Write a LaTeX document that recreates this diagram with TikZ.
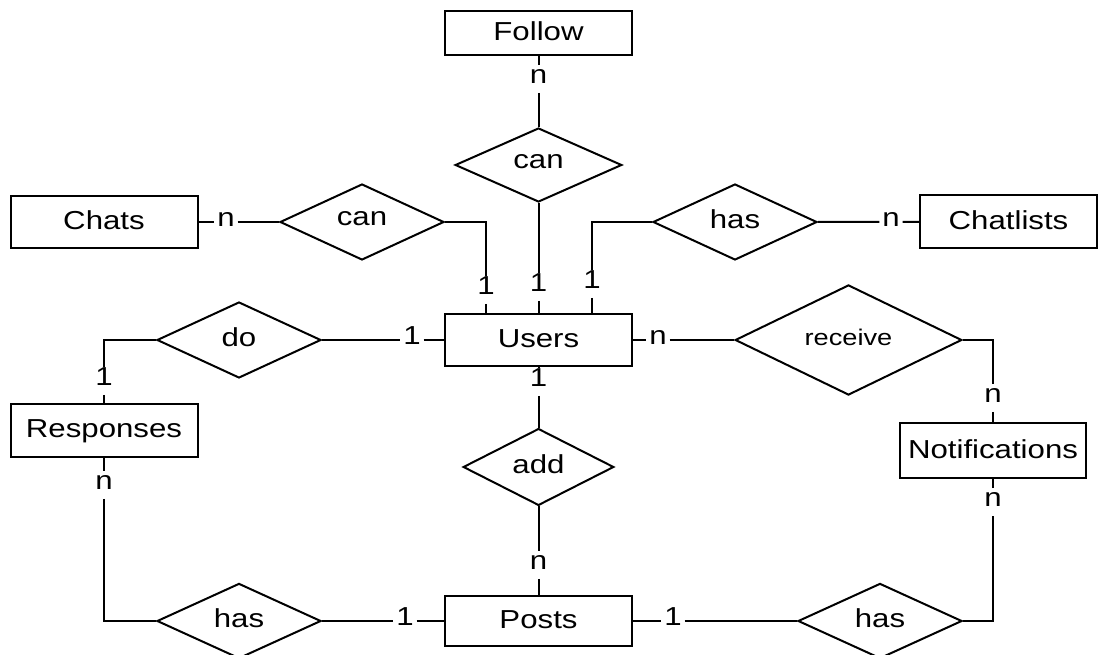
\documentclass[tikz,border=0pt]{standalone}
\usepackage{fontspec}
\setmainfont{Liberation Sans}[FakeStretch=1.2]
\usetikzlibrary{shapes.geometric}
\begin{document}
\begin{tikzpicture}[x=0.75pt,y=-0.75pt, line width=1.5pt,
 every node/.style={font=\fontsize{19.5}{23}\selectfont},
 entity/.style={draw, rectangle, minimum width=140.25pt, minimum height=39pt, inner sep=0pt, text depth=0.25em},
 rel/.style={draw, diamond, inner sep=0pt, minimum width=123pt, minimum height=56pt, text depth=0.45em},
 card/.style={inner xsep=1.5pt, inner ysep=6pt, text height=0.72em, text depth=0pt}]
\useasboundingbox (0,0) rectangle (1098,655);
\clip (0,0) rectangle (1098,655);
% entities
\node[entity, minimum height=33pt] (follow) at (538.5,33) {Follow};
\node[entity] (chats) at (104,222) {Chats};
\node[entity, minimum width=132.75pt, minimum height=40pt] (chatlists) at (1008.5,221.5) {Chatlists};
\node[entity] (users) at (538.5,340) {Users};
\node[entity, minimum height=40pt] (responses) at (104,430.5) {Responses};
\node[entity, minimum width=139.5pt, minimum height=41pt] (notif) at (993,450.5) {Notifications};
\node[entity, minimum height=37.5pt] (posts) at (538.5,621) {Posts};
% relationships
\node[rel, minimum width=125pt, minimum height=55.5pt] (canT) at (538.5,165) {can};
\node[rel, minimum height=57pt] (canL) at (362,222) {can};
\node[rel, minimum height=57pt] (hasT) at (735,222) {has};
\node[rel, minimum height=57pt] (do) at (239,340) {do};
\node[rel, minimum width=170pt, minimum height=53pt, font=\fontsize{17}{20}\selectfont] (receive) at (848.5,340) {receive};
\node[rel, minimum width=113pt, minimum height=52pt] (add) at (538.5,467) {add};
\node[rel, minimum height=55.5pt] (hasL) at (239,621) {has};
\node[rel, minimum height=55.5pt] (hasR) at (880,621) {has};
% cardinalities
\node[card] (c1) at (538.5,79) {n};
\node[card] (c2) at (538.5,287) {1};
\node[card] (c3) at (226,222) {n};
\node[card] (c4) at (486,290) {1};
\node[card] (c5) at (592,284) {1};
\node[card] (c6) at (891,222) {n};
\node[card] (c7) at (412,340) {1};
\node[card] (c8) at (104,381) {1};
\node[card] (c9) at (658,340) {n};
\node[card] (c10) at (993,398) {n};
\node[card] (c11) at (538.5,382) {1};
\node[card] (c12) at (538.5,565) {n};
\node[card] (c13) at (104,485) {n};
\node[card] (c14) at (405,621) {1};
\node[card] (c15) at (673,621) {1};
\node[card] (c16) at (993,502) {n};
% connectors
\draw (follow) -- (c1) -- (canT);
\draw (canT) -- (c2) -- (users);
\draw (chats) -- (c3) -- (canL);
\draw (canL.east) -| (c4) -- (c4 |- users.north);
\draw (hasT.west) -| (c5) -- (c5 |- users.north);
\draw (hasT) -- (c6) -- (chatlists);
\draw (do) -- (c7) -- (users);
\draw (do.west) -| (c8) -- (responses);
\draw (users) -- (c9) -- (receive);
\draw (receive.east) -| (c10) -- (notif);
\draw (users) -- (c11) -- (add);
\draw (add) -- (c12) -- (posts);
\draw (responses) -- (c13) |- (hasL.west);
\draw (hasL) -- (c14) -- (posts);
\draw (posts) -- (c15) -- (hasR);
\draw (hasR.east) -| (c16) -- (notif);
\end{tikzpicture}
\end{document}
